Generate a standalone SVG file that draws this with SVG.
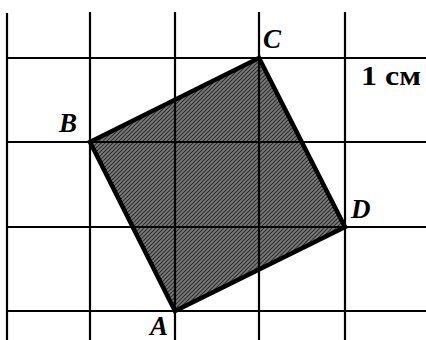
<svg xmlns="http://www.w3.org/2000/svg" width="426" height="340" viewBox="0 0 426 340">
<defs>
<style>
.grid{stroke:#000;stroke-width:2.2;fill:none}
.lbl{font-family:"Liberation Serif","DejaVu Serif",serif;font-weight:bold;font-style:italic;font-size:27px;fill:#000}
.unit{font-family:"Liberation Serif","DejaVu Serif",serif;font-weight:bold;font-size:27px;fill:#000}
</style>
<pattern id="tex" width="4" height="4" patternUnits="userSpaceOnUse">
<rect width="4" height="4" fill="#7c7c7c"/>
<path d="M0 4L4 0M-1 1L1 -1M3 5L5 3" stroke="#2e2e2e" stroke-width="1.2"/>
</pattern>
</defs>
<rect width="426" height="340" fill="#fff"/>
<g id="square-fill">
<polygon points="259,58 90,142 175,311 345,227" fill="url(#tex)"/>
</g>
<g id="grid" class="grid">
<line x1="7" y1="13" x2="7" y2="340"/>
<line x1="90" y1="12" x2="90" y2="340"/>
<line x1="175" y1="12" x2="175" y2="340"/>
<line x1="259" y1="12" x2="259" y2="340"/>
<line x1="345" y1="12" x2="345" y2="340"/>
<line x1="7" y1="58" x2="426" y2="58"/>
<line x1="7" y1="142" x2="426" y2="142"/>
<line x1="7" y1="227" x2="426" y2="227"/>
<line x1="7" y1="311" x2="426" y2="311"/>
</g>
<g id="square-outline">
<polygon points="259,58 90,142 175,311 345,227" fill="none" stroke="#000" stroke-width="4.5" stroke-linejoin="miter"/>
</g>
<g id="C"><text class="lbl" x="263" y="48">C</text></g>
<g id="B"><text class="lbl" x="59" y="132">B</text></g>
<g id="D"><text class="lbl" x="351" y="218">D</text></g>
<g id="A"><text class="lbl" x="150" y="335">A</text></g>
<g id="scale"><text class="unit" x="361" y="85" textLength="60" lengthAdjust="spacingAndGlyphs">1 см</text></g>
</svg>
